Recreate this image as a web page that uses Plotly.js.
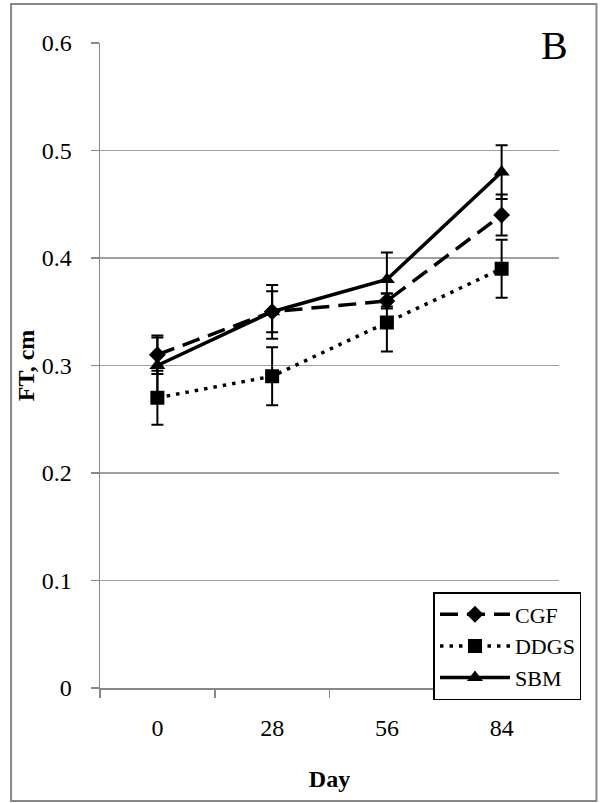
<!DOCTYPE html>
<html>
<head>
<meta charset="utf-8">
<script src="https://cdn.plot.ly/plotly-3.0.1.min.js"></script>
<style>
  html, body { margin: 0; padding: 0; background: #fff; }
  #chart { width: 600px; height: 803px; }
</style>
</head>
<body>
<div id="chart"></div>
<script>
// ---- data ----
const days = ["0", "28", "56", "84"];
const cgf = [0.31, 0.35, 0.36, 0.44];
const cgfErr = [0.018, 0.019, 0.007, 0.019];
const ddgs = [0.27, 0.29, 0.34, 0.39];
const ddgsErr = [0.025, 0.027, 0.027, 0.027];
const sbm = [0.30, 0.35, 0.38, 0.48];
const sbmErr = [0.026, 0.025, 0.025, 0.025];
const yTicks = [0, 0.1, 0.2, 0.3, 0.4, 0.5, 0.6];
const yTickText = ["0", "0.1", "0.2", "0.3", "0.4", "0.5", "0.6"];

const FONT = "'Liberation Serif', 'Times New Roman', Times, serif";

function errOpts(arr) {
  return { type: "data", array: arr, visible: true, color: "#000", thickness: 2, width: 6 };
}

const traces = [
  {
    name: "CGF", x: days, y: cgf, type: "scatter", mode: "lines+markers",
    line: { color: "#000", width: 3.5, dash: "18px,9px" },
    marker: { symbol: "diamond", size: 13, color: "#000" },
    error_y: errOpts(cgfErr)
  },
  {
    name: "DDGS", x: days, y: ddgs, type: "scatter", mode: "lines+markers",
    line: { color: "#000", width: 3.5, dash: "3.5px,6px" },
    marker: { symbol: "square", size: 14, color: "#000" },
    error_y: errOpts(ddgsErr)
  },
  {
    name: "SBM", x: days, y: sbm, type: "scatter", mode: "lines+markers",
    line: { color: "#000", width: 3.5 },
    marker: { symbol: "triangle-up", size: 14, color: "#000" },
    error_y: errOpts(sbmErr)
  }
];

const L = 100, R = 559.5, T = 43, B = 688;
const pw = R - L, ph = B - T;
const px = v => (v - L) / pw;
const py = v => (B - v) / ph;

const layout = {
  width: 600, height: 803,
  margin: { l: L, r: 600 - R, t: T, b: 803 - B, pad: 0 },
  paper_bgcolor: "#fff", plot_bgcolor: "#fff",
  font: { family: FONT, size: 24, color: "#000" },
  showlegend: true,
  xaxis: {
    type: "category",
    range: [-0.5, 3.5],
    tickson: "boundaries",
    ticks: "outside", ticklen: 8, tickwidth: 1.5, tickcolor: "#888",
    showline: true, linecolor: "#888", linewidth: 1.5,
    showgrid: false, zeroline: false,
    tickfont: { family: FONT, size: 24, color: "#000" },
    ticklabelstandoff: 18,
    title: { text: "<b>Day</b>", font: { family: FONT, size: 24, color: "#000" }, standoff: 30 },
    fixedrange: true
  },
  yaxis: {
    range: [0, 0.6],
    tickvals: yTicks, ticktext: yTickText,
    ticks: "outside", ticklen: 8, tickwidth: 1.5, tickcolor: "#888",
    showline: true, linecolor: "#888", linewidth: 1.5,
    showgrid: true, gridcolor: "#a0a0a0", gridwidth: 1.5,
    zeroline: false,
    tickfont: { family: FONT, size: 24, color: "#000" },
    ticklabelstandoff: 14,
    title: { text: "<b>FT, cm</b>", font: { family: FONT, size: 24, color: "#000" }, standoff: 0 },
    fixedrange: true
  },
  legend: {
    x: px(582), xanchor: "right",
    y: py(646), yanchor: "middle",
    bgcolor: "#fff", bordercolor: "#000", borderwidth: 1.5,
    font: { family: FONT, size: 22, color: "#000" },
    itemwidth: 70,
    tracegroupgap: 0
  },
  annotations: [
    { text: "B", xref: "paper", yref: "paper", x: px(555), y: py(46),
      xanchor: "center", yanchor: "middle", showarrow: false,
      font: { family: FONT, size: 40, color: "#000" }, bgcolor: "rgba(0,0,0,0)" }
  ],
  shapes: [
    { type: "rect", xref: "paper", yref: "paper", layer: "below",
      x0: px(11), x1: px(597), y0: py(801), y1: py(4),
      line: { color: "#888", width: 2 }, fillcolor: "rgba(0,0,0,0)" }
  ]
};

Plotly.newPlot("chart", traces, layout, { displayModeBar: false, staticPlot: true });
</script>
</body>
</html>
